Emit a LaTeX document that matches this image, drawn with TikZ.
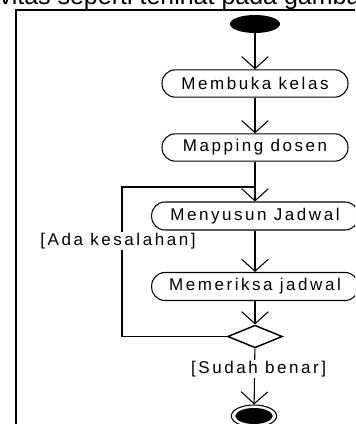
\documentclass[tikz,border=0pt]{standalone}
\usepackage{fontspec}
\setmainfont{Liberation Sans}
\newfontfamily\umlfont{Liberation Sans}[LetterSpace=15]
\usetikzlibrary{arrows.meta,positioning,shapes.geometric}

\begin{document}
\begin{tikzpicture}[x=0.75pt,y=-0.75pt,
    act/.style={draw,line width=0.8pt,rounded corners=10pt,
                minimum width=139.5pt,minimum height=20.5pt,inner sep=0pt,
                font=\umlfont\fontsize{12.75}{14}\selectfont},
    wide/.style={act,minimum width=155pt,minimum height=21pt},
    lbl/.style={fill=white,inner sep=1pt,
                font=\umlfont\fontsize{12.75}{14}\selectfont},
    flow/.style={-{Straight Barb[length=9pt,width=20pt]},line width=0.8pt},
    frame/.style={line width=2pt}]

    \useasboundingbox (0,0) rectangle (355,424);
    \clip (0,0) rectangle (355,424);

    % text above the frame
    \node[anchor=base west,inner sep=0pt,font=\fontsize{18.75}{20}\selectfont]
      (judul) at (-1,5) {vitas seperti terlihat pada gambar};
    \draw[frame] (16,430) -- (16,10) -- (360,10);

    % activities
    \node[fill,ellipse,minimum width=37.5pt,minimum height=13.5pt,inner sep=0pt] (start) at (255,24) {};
    \node[act] (buka) at (255,83.5) {Membuka kelas};
    \node[act] (map) at (255,147.5) {Mapping dosen};
    \node[wide] (susun) at (255,216) {Menyusun Jadwal};
    \node[wide] (periksa) at (255,286.5) {Memeriksa jadwal};
    \node[draw,diamond,line width=1.1pt,minimum width=41pt,minimum height=17pt,inner sep=0pt] (cek) at (255,336.5) {};
    \node[draw,ellipse,line width=0.8pt,minimum width=34pt,minimum height=16.5pt,inner sep=0pt] (end) at (254,416) {};
    \node[fill,ellipse,minimum width=28pt,minimum height=12pt,inner sep=0pt] (endin) at (end) {};

    % flows
    \draw[flow] (start) -- (buka);
    \draw[flow] (buka) -- (map);
    \draw[flow] (map) -- (susun);
    \draw[flow] (susun) -- (periksa);
    \draw[flow] (periksa) -- (cek);
    \draw[flow] (cek) -- node[lbl,pos=0.37,xshift=3pt] {[Sudah benar]} (end);

    % loop back
    \coordinate (join) at (255,187);
    \draw[line width=0.8pt] (cek.west) -| (122,187) -- (join);
    \node[lbl] (ada) at (118,241) {[Ada kesalahan]};
\end{tikzpicture}
\end{document}
